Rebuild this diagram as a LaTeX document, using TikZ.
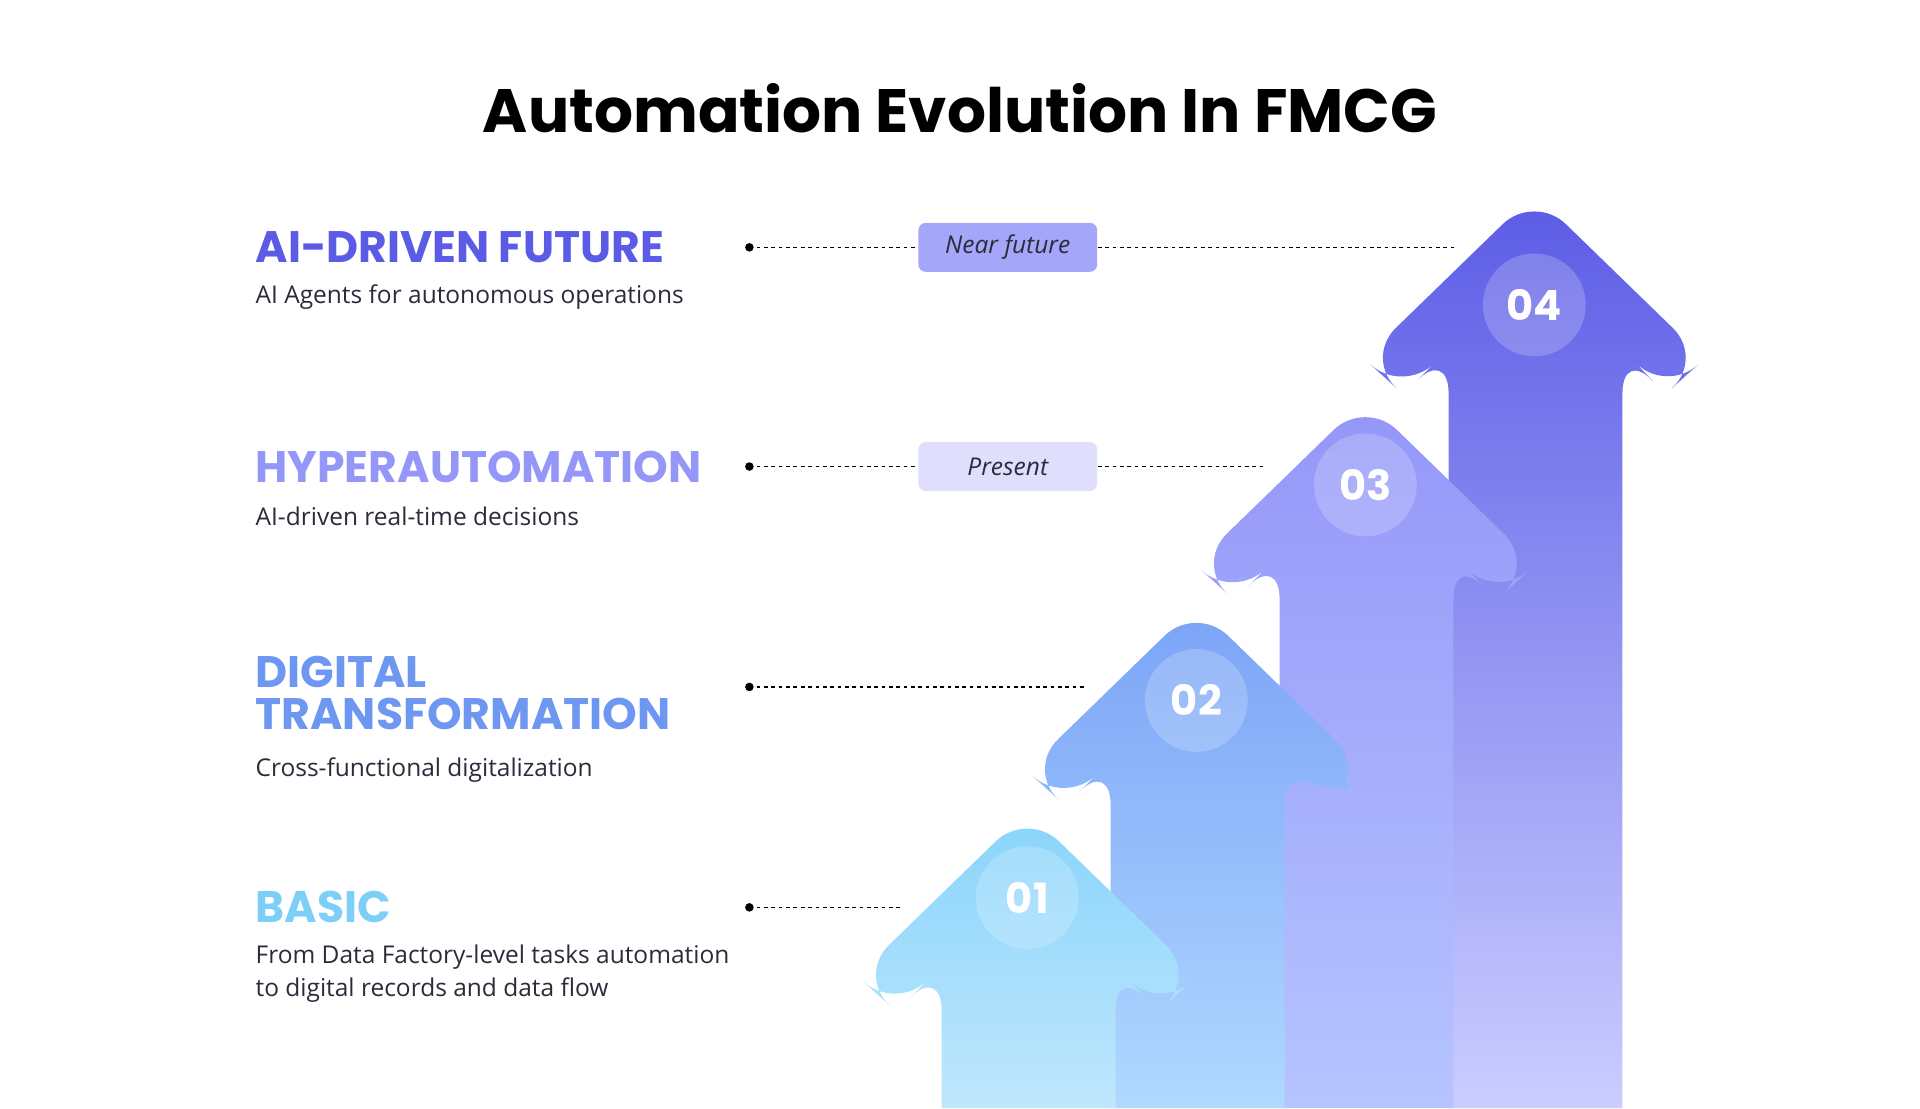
\documentclass[tikz,border=0pt]{standalone}
\usepackage{fontspec}
\setmainfont{Open Sans}
\newfontfamily\headfont{Poppins}[UprightFont=* Bold,BoldFont=* Bold]
\usetikzlibrary{positioning}
\definecolor{cFour}{HTML}{5B5BE6}
\definecolor{cFourB}{HTML}{CACDFF}
\definecolor{cThree}{HTML}{9496F8}
\definecolor{cThreeB}{HTML}{B6C4FF}
\definecolor{cTwo}{HTML}{7BA3F7}
\definecolor{cTwoB}{HTML}{B0D8FF}
\definecolor{cOne}{HTML}{88D4FB}
\definecolor{cOneB}{HTML}{BFE7FD}
\definecolor{cDigital}{HTML}{6E97F2}
\definecolor{cBasic}{HTML}{7DCFF8}
\definecolor{cText}{HTML}{2B2B3A}
\tikzset{every picture/.style={line width=0.75pt}}
\tikzset{
  head/.style={anchor=west,inner sep=0pt,font=\headfont\fontsize{18}{20}\selectfont},
  body/.style={anchor=west,inner sep=0pt,text=cText,font=\fontsize{10}{13.5}\selectfont,align=left},
  tag/.style={fill=#1,rounded corners=3pt,minimum width=73pt,minimum height=20pt,inner sep=0pt,text=cText,font=\itshape\fontsize{10}{12}\selectfont},
  leader/.style={dash pattern=on 1.5pt off 1.5pt,line width=0.6pt},
  num/.style={circle,fill=white,fill opacity=0.2,text opacity=1,minimum size=42pt,inner sep=0pt,text=white,font=\headfont\fontsize{17}{17}\selectfont}
}
\begin{document}
\begin{tikzpicture}[x=0.5pt,y=0.5pt,yscale=-1,xscale=1]
\useasboundingbox (0,0) rectangle (1568,905);

% Title
\node (title) at (784,88) {\headfont\fontsize{25}{28}\selectfont Automation Evolution In FMCG};

% Arrows
\foreach \i/\top/\bot in {3/cFour/cFourB,2/cThree/cThreeB,1/cTwo/cTwoB,0/cOne/cOneB}{
  \pgfmathsetmacro{\dx}{-138*(3-\i)}
  \pgfmathsetmacro{\dy}{168*(3-\i)}
  \begin{scope}[shift={(\dx,\dy)}]
    \shade[top color=\top,bottom color=\bot,rounded corners=18]
      (1253,158) -- (1114,293) -- (1146,322) -- (1183,285)
      [sharp corners] -- (1183,905-\dy) -- (1325,905-\dy)
      [rounded corners=18] -- (1325,285) -- (1360,322) -- (1392,293) -- cycle;
  \end{scope}
}

% Number circles
\node[num] (n1) at (839,733) {01};
\node[num] (n2) at (977,572) {02};
\node[num] (n3) at (1115,396) {03};
\node[num] (n4) at (1253,249) {04};

% Stage texts
\node[head,text=cFour] (h4) at (208,202) {AI-DRIVEN FUTURE};
\node[body] (b4) at (208,243) {AI Agents for autonomous operations};
\node[head,text=cThree] (h3) at (208,381) {HYPERAUTOMATION};
\node[body] (b3) at (208,422) {AI-driven real-time decisions};
\node[head,text=cDigital,align=left] (h2) at (208,566) {DIGITAL\\[-3pt]TRANSFORMATION};
\node[body] (b2) at (208,629) {Cross-functional digitalization};
\node[head,text=cBasic] (h1) at (208,741) {BASIC};
\node[body] (b1) at (208,795) {From Data Factory-level tasks automation\\to digital records and data flow};

% Leaders
\coordinate (d4) at (612,202); \coordinate (e4) at (1188,202);
\coordinate (d3) at (612,381); \coordinate (e3) at (1032,381);
\coordinate (d2) at (612,561); \coordinate (e2) at (888,561);
\coordinate (d1) at (612,741); \coordinate (e1) at (737,741);
\node[tag=cThree!85] (t4) at (823,202) {Near future};
\node[tag=cThree!30] (t3) at (823,381) {Present};
\draw[leader] (d4) -- (t4.west) (t4.east) -- (e4);
\draw[leader] (d3) -- (t3.west) (t3.east) -- (e3);
\draw[leader] (d2) -- (e2);
\draw[leader] (d1) -- (e1);
\foreach \k in {1,...,4} \fill (d\k) circle (3.5);
\end{tikzpicture}
\end{document}
